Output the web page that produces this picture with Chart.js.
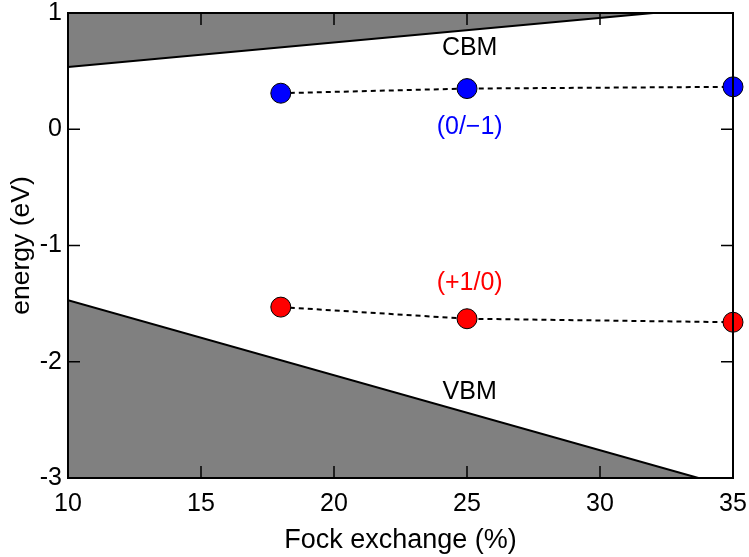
<!DOCTYPE html>
<html>
<head>
<meta charset="utf-8">
<script src="https://cdn.jsdelivr.net/npm/chart.js@4/dist/chart.umd.min.js"></script>
<style>
  body { margin: 0; background: #fff; }
  #myChart { display: block; }
</style>
</head>
<body>
<canvas id="myChart" width="749" height="557"></canvas>
<script>
// Fock exchange (%) values of the defect levels
const fockX = [18, 25, 35];
const level0m1 = [0.31, 0.35, 0.365];     // (0/−1)
const levelP10 = [-1.53, -1.63, -1.66];   // (+1/0)

// band edges (end points of the straight lines)
const cbmX = [10, 32];
const cbmY = [0.535, 1.0];
const vbmX = [10, 33.7];
const vbmY = [-1.47, -3.0];

const xTicks = [10, 15, 20, 25, 30, 35];
const yTicks = [-3, -2, -1, 0, 1];

// text labels inside the plot
const labels = [
    { text: 'CBM', x: 25.1, y: 0.70, color: '#000000' },
    { text: 'VBM', x: 25.1, y: -2.26, color: '#000000' },
    { text: '(0/\u22121)', x: 25.1, y: 0.02, color: '#0000ff' },
    { text: '(+1/0)', x: 25.1, y: -1.32, color: '#ff0000' },
];

const toPoints = (xs, ys) => xs.map((x, i) => ({ x: x, y: ys[i] }));

const fontFamily = '"Liberation Sans", Arial, sans-serif';

// frame, inward ticks on all four sides, and the text labels
const framePlugin = {
    id: 'frame',
    afterDatasetsDraw(chart) {
        const ctx = chart.ctx;
        const area = chart.chartArea;
        const xs = chart.scales.x;
        const ys = chart.scales.y;
        const len = 12;
        ctx.save();
        ctx.strokeStyle = '#000';
        ctx.lineWidth = 1.5;
        ctx.beginPath();
        xTicks.forEach(v => {
            const px = xs.getPixelForValue(v);
            ctx.moveTo(px, area.bottom);
            ctx.lineTo(px, area.bottom - len);
            ctx.moveTo(px, area.top);
            ctx.lineTo(px, area.top + len);
        });
        yTicks.forEach(v => {
            const py = ys.getPixelForValue(v);
            ctx.moveTo(area.left, py);
            ctx.lineTo(area.left + len, py);
            ctx.moveTo(area.right, py);
            ctx.lineTo(area.right - len, py);
        });
        ctx.stroke();
        ctx.lineWidth = 2;
        ctx.strokeRect(area.left, area.top, area.right - area.left, area.bottom - area.top);

        ctx.font = '25px ' + fontFamily;
        ctx.textAlign = 'center';
        ctx.textBaseline = 'middle';
        labels.forEach(l => {
            ctx.fillStyle = l.color;
            ctx.fillText(l.text, xs.getPixelForValue(l.x), ys.getPixelForValue(l.y));
        });
        ctx.restore();
    }
};

let ctx = document.getElementById('myChart').getContext('2d');
window.myChart = new Chart(ctx, {
    type: 'scatter',
    data: {
        datasets: [
            {
                label: 'CBM',
                data: toPoints(cbmX, cbmY),
                showLine: true,
                fill: 'end',
                backgroundColor: '#808080',
                borderColor: '#000000',
                borderWidth: 2,
                pointRadius: 0,
            },
            {
                label: 'VBM',
                data: toPoints(vbmX, vbmY),
                showLine: true,
                fill: 'start',
                backgroundColor: '#808080',
                borderColor: '#000000',
                borderWidth: 2,
                pointRadius: 0,
            },
            {
                label: '(0/-1)',
                data: toPoints(fockX, level0m1),
                showLine: true,
                borderColor: '#000000',
                borderWidth: 2,
                borderDash: [5, 4],
                pointRadius: 10,
                pointBackgroundColor: '#0000ff',
                pointBorderColor: '#000000',
                pointBorderWidth: 1,
                clip: false,
            },
            {
                label: '(+1/0)',
                data: toPoints(fockX, levelP10),
                showLine: true,
                borderColor: '#000000',
                borderWidth: 2,
                borderDash: [5, 4],
                pointRadius: 10,
                pointBackgroundColor: '#ff0000',
                pointBorderColor: '#000000',
                pointBorderWidth: 1,
                clip: false,
            },
        ]
    },
    options: {
        responsive: false,
        animation: false,
        devicePixelRatio: 1,
        layout: {
            padding: { left: 0, right: 16, top: 13, bottom: 0 }
        },
        scales: {
            x: {
                type: 'linear',
                min: 10,
                max: 35,
                grid: { display: false, drawTicks: false },
                border: { display: false },
                ticks: {
                    stepSize: 5,
                    padding: 11,
                    color: '#000',
                    font: { family: fontFamily, size: 25 },
                    maxRotation: 0,
                },
                title: {
                    display: true,
                    text: 'Fock exchange (%)',
                    color: '#000',
                    font: { family: fontFamily, size: 27 },
                    padding: { top: 0, bottom: 0 },
                },
                afterFit: (scale) => {
                    scale.height = 79;
                    scale.paddingLeft = 0;
                    scale.paddingRight = 0;
                }
            },
            y: {
                type: 'linear',
                min: -3,
                max: 1,
                grid: { display: false, drawTicks: false },
                border: { display: false },
                ticks: {
                    stepSize: 1,
                    padding: 6,
                    color: '#000',
                    font: { family: fontFamily, size: 25 },
                },
                title: {
                    display: true,
                    text: 'energy (eV)',
                    color: '#000',
                    font: { family: fontFamily, size: 26.5 },
                    padding: { top: 6, bottom: 0 },
                },
                afterFit: (scale) => {
                    scale.width = 68;
                    scale.paddingTop = 0;
                    scale.paddingBottom = 0;
                }
            }
        },
        plugins: {
            legend: { display: false },
            tooltip: { enabled: false },
        }
    },
    plugins: [framePlugin]
});
</script>
</body>
</html>
